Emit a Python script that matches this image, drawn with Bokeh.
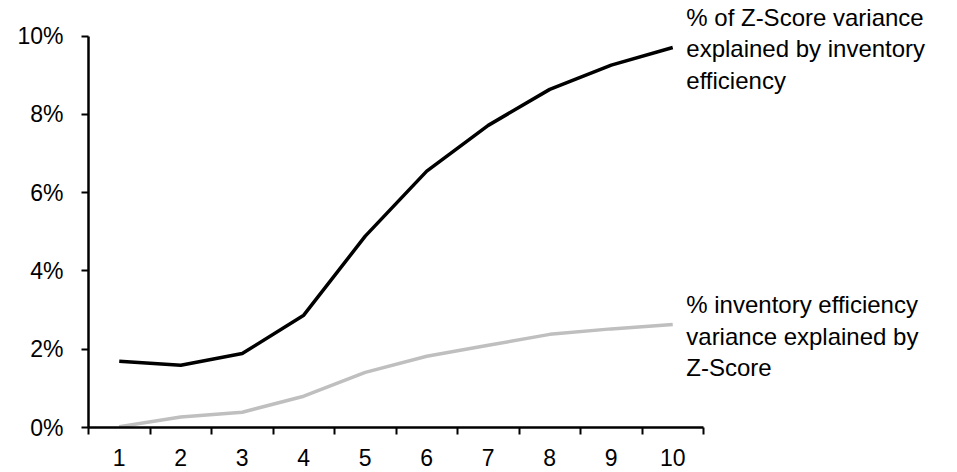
from bokeh.plotting import figure
from bokeh.models import Range1d, FixedTicker, PrintfTickFormatter, Label
from bokeh.embed import file_html
from bokeh.resources import INLINE

# ---- data ----
periods = [1, 2, 3, 4, 5, 6, 7, 8, 9, 10]
zscore_var_explained_by_inventory = [1.69, 1.59, 1.89, 2.87, 4.89, 6.55, 7.72, 8.64, 9.26, 9.71]
inventory_var_explained_by_zscore = [0.02, 0.27, 0.39, 0.80, 1.41, 1.82, 2.10, 2.38, 2.52, 2.63]
y_ticks = [0, 2, 4, 6, 8, 10]
label_zscore = "% of Z-Score variance\nexplained by inventory\nefficiency"
label_inventory = "% inventory efficiency\nvariance explained by\nZ-Score"

FONT = "Liberation Sans"

# frame extends to the right/top so the side labels are not clipped;
# axes are bounded to the actual data area
p = figure(
    width=957, height=472,
    min_border_left=88, min_border_top=2, min_border_right=8, min_border_bottom=45,
    x_range=Range1d(periods[0] - 0.5, 14.5),
    y_range=Range1d(y_ticks[0], 10.86),
    output_backend="svg", toolbar_location=None,
)
p.grid.visible = False
p.outline_line_color = None
p.background_fill_color = "white"
p.border_fill_color = "white"

p.line(periods, inventory_var_explained_by_zscore, line_color="#bfbfbf", line_width=3.5)
p.line(periods, zscore_var_explained_by_inventory, line_color="black", line_width=3.5)

# x axis: ticks between categories, labels at centers
boundaries = [x - 0.5 for x in periods] + [periods[-1] + 0.5]
xa = p.xaxis[0]
xa.bounds = (boundaries[0], boundaries[-1])
xa.ticker = FixedTicker(ticks=periods, minor_ticks=boundaries)
xa.axis_line_color = "black"
xa.axis_line_width = 2.5
xa.major_tick_in = 0
xa.major_tick_out = 0
xa.minor_tick_in = 0
xa.minor_tick_out = 7
xa.minor_tick_line_color = "black"
xa.minor_tick_line_width = 2
xa.major_label_standoff = 14
xa.major_label_text_font = FONT
xa.major_label_text_font_size = "23px"
xa.major_label_text_color = "black"

ya = p.yaxis[0]
ya.bounds = (y_ticks[0], y_ticks[-1])
ya.ticker = FixedTicker(ticks=y_ticks, minor_ticks=[])
ya.formatter = PrintfTickFormatter(format="%d%%")
ya.axis_line_color = "black"
ya.axis_line_width = 2.5
ya.major_tick_in = 0
ya.major_tick_out = 7
ya.major_tick_line_color = "black"
ya.major_tick_line_width = 2
ya.minor_tick_line_color = None
ya.major_label_standoff = 18
ya.major_label_text_font = FONT
ya.major_label_text_font_size = "23px"
ya.major_label_text_color = "black"

for txt, yv in [(label_zscore, 9.68), (label_inventory, 2.33)]:
    p.add_layout(Label(
        x=10.22, y=yv, text=txt,
        text_align="left", text_baseline="middle",
        text_font=FONT, text_font_size="24px", text_color="black",
        text_line_height=1.17,
    ))

open("out.html", "w").write(file_html(p, INLINE))
